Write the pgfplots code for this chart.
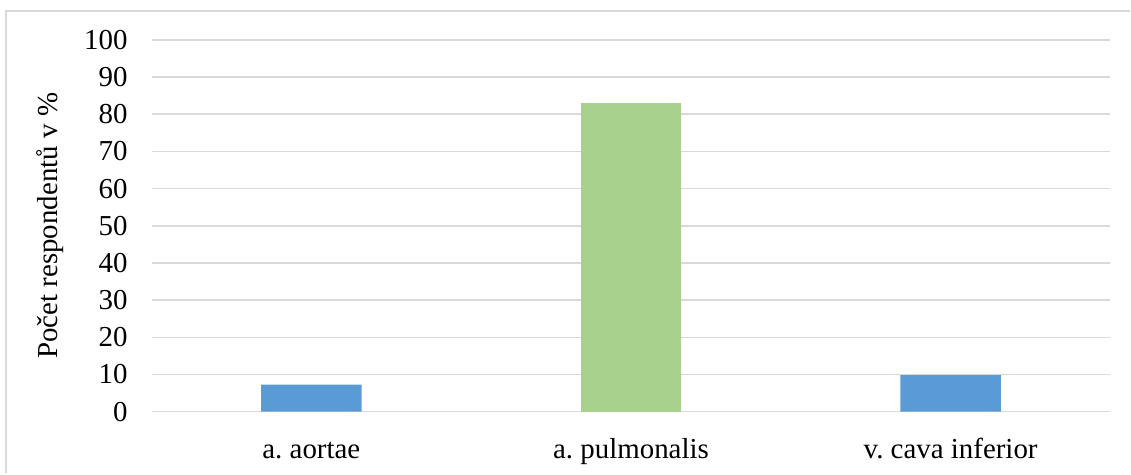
\documentclass[border=0pt]{standalone}
\usepackage{fontspec}
\setmainfont{Liberation Serif}
\usepackage{pgfplots}
\pgfplotsset{compat=1.18}
\definecolor{barblue}{HTML}{5B9BD5}
\definecolor{bargreen}{HTML}{A9D18E}
\definecolor{gridgray}{HTML}{D9D9D9}
\begin{document}
\frenchspacing
\begin{tikzpicture}
\begin{axis}[
    scale only axis,
    width=481pt, height=186.5pt,
    xmin=-0.5, xmax=2.5, ymin=0, ymax=100,
    xtick={0,1,2},
    xticklabels={a. aortae, a. pulmonalis, v. cava inferior},
    ytick={0,10,...,100},
    ymajorgrids, grid style={gridgray, line width=0.75pt},
    axis line style={draw=none},
    major tick length=0pt,
    font=\fontsize{14.5}{17}\selectfont,
    /pgf/number format/assume math mode=true,
    xticklabel style={anchor=base, yshift=-23.5pt},
    yticklabel style={xshift=-8.5pt},
    ylabel={Počet respondentů v \%},
    every axis y label/.style={at={([xshift=-51pt]axis description cs:0,0.5)}, rotate=90, anchor=center},
    ybar, bar width=50.5pt,
    clip=false,
]
\addplot[fill=barblue, draw=none, bar shift=0pt] coordinates {(0,7.3) (2,9.8)};
\addplot[fill=bargreen, draw=none, bar shift=0pt] coordinates {(1,82.9)};
% outer frame: only the top and left edges fall inside the picture
\draw[gridgray, line width=0.6pt] ([shift={(-73pt,-31pt)}]axis description cs:0,0) -- ([shift={(-73pt,201pt)}]axis description cs:0,0) -- ([shift={(10pt,201pt)}]axis description cs:1,0);
\useasboundingbox ([shift={(-76pt,-30.5pt)}]axis description cs:0,0) rectangle ([shift={(8pt,20pt)}]axis description cs:1,1);
\end{axis}
\end{tikzpicture}
\end{document}
